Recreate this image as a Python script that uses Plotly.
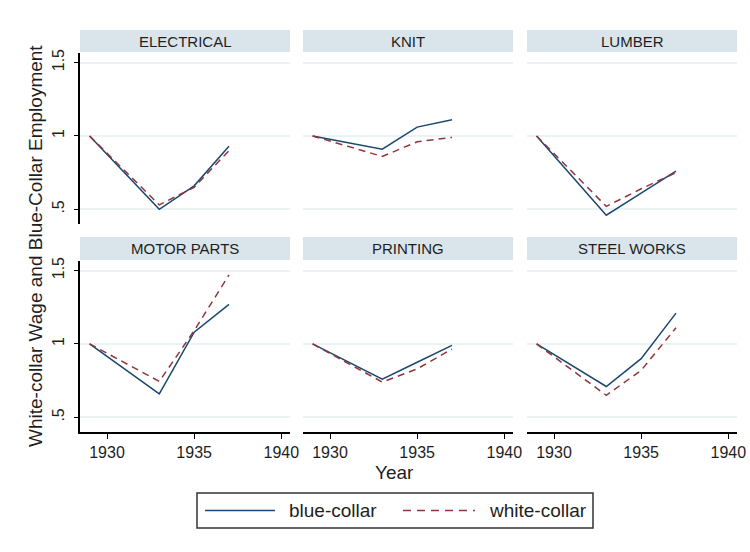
import plotly.graph_objects as go

# Data: index (1929 = 1) by industry
years = [1929, 1933, 1935, 1937]
industries = ["ELECTRICAL", "KNIT", "LUMBER", "MOTOR PARTS", "PRINTING", "STEEL WORKS"]

blue_electrical = [1.00, 0.50, 0.66, 0.93]
white_electrical = [1.00, 0.53, 0.65, 0.90]
blue_knit = [1.00, 0.91, 1.06, 1.11]
white_knit = [1.00, 0.86, 0.96, 0.99]
blue_lumber = [1.00, 0.46, 0.61, 0.76]
white_lumber = [1.00, 0.52, 0.64, 0.75]
blue_motor = [1.00, 0.66, 1.08, 1.27]
white_motor = [1.00, 0.745, 1.09, 1.47]
blue_printing = [1.00, 0.76, 0.875, 0.99]
white_printing = [1.00, 0.74, 0.83, 0.965]
blue_steel = [1.00, 0.71, 0.90, 1.21]
white_steel = [1.00, 0.65, 0.82, 1.11]

blue_series = [blue_electrical, blue_knit, blue_lumber, blue_motor, blue_printing, blue_steel]
white_series = [white_electrical, white_knit, white_lumber, white_motor, white_printing, white_steel]

x_ticks = [1930, 1935, 1940]
y_ticks = [0.5, 1.0, 1.5]
y_ticktext = [".5", "1", "1.5"]

BLUE = "#1a476f"
RED = "#90353b"
GRID = "#eaf2f3"
STRIP = "#dae5eb"
TEXT = "#1e1e1e"
FONT = "Liberation Sans, Arial, sans-serif"

W, H = 750, 552


def fx(px):
    return px / W


def fy(py):
    return 1 - py / H


col_px = [(80, 290), (303, 513), (527, 737)]
row_px = [(53, 224), (261, 432)]
strip_px = [(30, 52), (237, 260)]

fig = go.Figure()
layout = {}
shapes = []
annotations = []

for i, name in enumerate(industries):
    r, c = divmod(i, 3)
    n = i + 1
    xa = "x" if n == 1 else f"x{n}"
    ya = "y" if n == 1 else f"y{n}"
    fig.add_trace(go.Scatter(x=years, y=blue_series[i], mode="lines",
                             line=dict(color=BLUE, width=1.5),
                             xaxis=xa, yaxis=ya, showlegend=False,
                             name="blue-collar"))
    fig.add_trace(go.Scatter(x=years, y=white_series[i], mode="lines",
                             line=dict(color=RED, width=1.5, dash="7px,5px"),
                             xaxis=xa, yaxis=ya, showlegend=False,
                             name="white-collar"))

    x0, x1 = col_px[c]
    y0, y1 = row_px[r]
    bottom = r == 1
    left = c == 0
    layout["xaxis" if n == 1 else f"xaxis{n}"] = dict(
        domain=[fx(x0), fx(x1)], range=[1928.45, 1940.5], anchor=ya,
        tickvals=x_ticks, showticklabels=bottom,
        ticks="outside" if bottom else "", ticklen=5, tickwidth=1.2, tickcolor="#000",
        showline=bottom, linecolor="#000", linewidth=1.5,
        showgrid=False, zeroline=False, automargin=False,
        tickfont=dict(family=FONT, size=16, color=TEXT))
    layout["yaxis" if n == 1 else f"yaxis{n}"] = dict(
        domain=[fy(y1), fy(y0)], range=[0.4, 1.565], anchor=xa,
        tickvals=y_ticks, ticktext=y_ticktext, tickangle=-90,
        showticklabels=left, ticks="outside" if left else "",
        ticklen=4, tickwidth=1.2, tickcolor="#000", ticklabelstandoff=4,
        showline=left, linecolor="#000", linewidth=1.5,
        showgrid=True, gridcolor=GRID, gridwidth=1.5, zeroline=False,
        automargin=False, tickfont=dict(family=FONT, size=16, color=TEXT))

    # panel title strip
    s0, s1 = strip_px[r]
    shapes.append(dict(type="rect", xref="paper", yref="paper",
                       x0=fx(x0), x1=fx(x1), y0=fy(s1), y1=fy(s0),
                       fillcolor=STRIP, line=dict(width=0), layer="below"))
    annotations.append(dict(text=name, xref="paper", yref="paper",
                            x=fx((x0 + x1) / 2), y=fy((s0 + s1) / 2),
                            xanchor="center", yanchor="middle", showarrow=False,
                            font=dict(family=FONT, size=15, color=TEXT)))

# axis titles
annotations.append(dict(text="White-collar Wage and Blue-Collar Employment",
                        xref="paper", yref="paper", x=fx(35), y=fy(246),
                        textangle=-90, showarrow=False, xanchor="center", yanchor="middle",
                        font=dict(family=FONT, size=19, color=TEXT)))
annotations.append(dict(text="Year", xref="paper", yref="paper", x=fx(395), y=fy(472),
                        showarrow=False, xanchor="center", yanchor="middle",
                        font=dict(family=FONT, size=19, color=TEXT)))

# legend box
shapes.append(dict(type="rect", xref="paper", yref="paper",
                   x0=fx(197), x1=fx(593), y0=fy(528), y1=fy(493),
                   line=dict(color="#333", width=1.5), fillcolor="white"))
shapes.append(dict(type="line", xref="paper", yref="paper",
                   x0=fx(205), x1=fx(275), y0=fy(510.5), y1=fy(510.5),
                   line=dict(color=BLUE, width=1.5)))
shapes.append(dict(type="line", xref="paper", yref="paper",
                   x0=fx(403), x1=fx(475), y0=fy(510.5), y1=fy(510.5),
                   line=dict(color=RED, width=1.5, dash="8px,6px")))
annotations.append(dict(text="blue-collar", xref="paper", yref="paper", x=fx(287), y=fy(510.5),
                        xanchor="left", yanchor="middle", showarrow=False,
                        font=dict(family=FONT, size=19, color=TEXT)))
annotations.append(dict(text="white-collar", xref="paper", yref="paper", x=fx(487), y=fy(510.5),
                        xanchor="left", yanchor="middle", showarrow=False,
                        font=dict(family=FONT, size=19, color=TEXT)))

fig.update_layout(
    width=W, height=H,
    margin=dict(l=0, r=0, t=0, b=0),
    paper_bgcolor="white", plot_bgcolor="white",
    showlegend=False,
    shapes=shapes, annotations=annotations,
    **layout)

fig.write_html("out.html")
